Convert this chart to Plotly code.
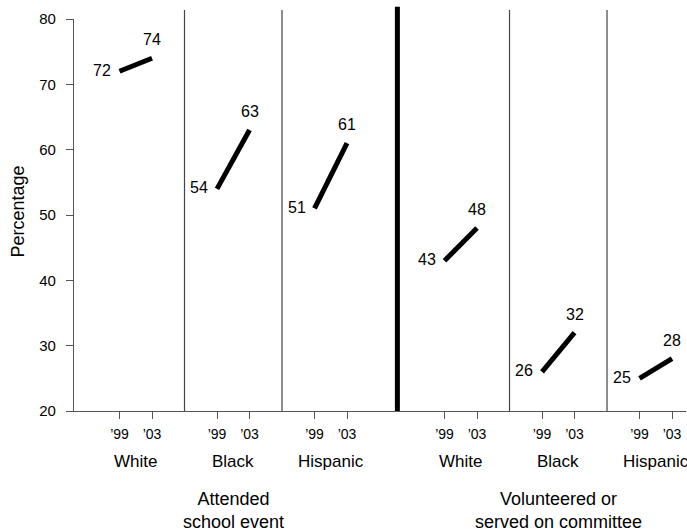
import plotly.graph_objects as go

# Data
activities = ["Attended<br>school event", "Volunteered or<br>served on committee"]
groups = ["White", "Black", "Hispanic"]
years = ["’99", "’03"]
attended_99 = [72, 54, 51]
attended_03 = [74, 63, 61]
volunteered_99 = [43, 26, 25]
volunteered_03 = [48, 32, 28]
y_ticks = [20, 30, 40, 50, 60, 70, 80]

FONT = "Liberation Sans, Arial, Helvetica, sans-serif"

fig = go.Figure()

# layout positions (x units)
def pos99(a, g):
    return 1.4 + g * 3 + a * 10

series = [(attended_99, attended_03), (volunteered_99, volunteered_03)]
tickvals, ticktext = [], []
annotations = []
for a, (v99, v03) in enumerate(series):
    for g in range(3):
        x0 = pos99(a, g)
        x1 = x0 + 1
        fig.add_trace(go.Scatter(x=[x0, x1], y=[v99[g], v03[g]], mode="lines",
                                 line=dict(color="black", width=5), showlegend=False,
                                 hoverinfo="skip"))
        tickvals += [x0, x1]
        ticktext += years
        annotations.append(dict(x=x0, y=v99[g], text=str(v99[g]), showarrow=False,
                                xanchor="right", yanchor="middle", xshift=-7, yshift=1,
                                font=dict(size=16, color="black", family=FONT)))
        annotations.append(dict(x=x1, y=v03[g], text=str(v03[g]), showarrow=False,
                                xanchor="center", yanchor="bottom", yshift=8,
                                font=dict(size=16, color="black", family=FONT)))
        annotations.append(dict(x=x0 + 0.5, y=-0.13, yref="paper", text=groups[g],
                                showarrow=False, xanchor="center", yanchor="middle",
                                font=dict(size=17, color="black", family=FONT)))
    annotations.append(dict(x=pos99(a, 1) + 0.5, y=-0.255, yref="paper",
                            text=activities[a], showarrow=False, xanchor="center",
                            yanchor="middle",
                            font=dict(size=18, color="black", family=FONT)))

# y-axis title
annotations.append(dict(x=-0.0915, y=0.509, xref="paper", yref="paper", text="Percentage",
                        textangle=-90, showarrow=False, xanchor="center", yanchor="middle",
                        font=dict(size=18, color="black", family=FONT)))

shapes = []
# thin separators
for xs in [3.4, 6.4, 13.4, 16.4]:
    shapes.append(dict(type="line", x0=xs, x1=xs, y0=0, y1=1.023, xref="x", yref="paper",
                       line=dict(color="#444", width=1.2)))
# thick separator
shapes.append(dict(type="line", x0=9.95, x1=9.95, y0=0, y1=1.031, xref="x", yref="paper",
                   line=dict(color="black", width=5)))

fig.update_layout(
    width=687, height=531,
    margin=dict(l=74, r=1, t=19, b=120),
    paper_bgcolor="white", plot_bgcolor="white",
    font=dict(family=FONT, color="black"),
    shapes=shapes, annotations=annotations,
    xaxis=dict(range=[0, 18.83], tickvals=tickvals, ticktext=ticktext,
               ticks="outside", ticklen=7, tickcolor="#555", tickwidth=1.2,
               showline=True, linecolor="#555", linewidth=1.2, ticklabelstandoff=3,
               showgrid=False, zeroline=False, tickfont=dict(size=14)),
    yaxis=dict(range=[20, 80], tickvals=y_ticks, ticks="outside", ticklen=7,
               tickcolor="#555", tickwidth=1.2, showline=True, linecolor="#555",
               linewidth=1.2, showgrid=False, zeroline=False, ticklabelstandoff=7,
               tickfont=dict(size=15)),
)

fig.write_html("out.html", config={"displayModeBar": False},
               post_script="document.body.style.margin='0';")
